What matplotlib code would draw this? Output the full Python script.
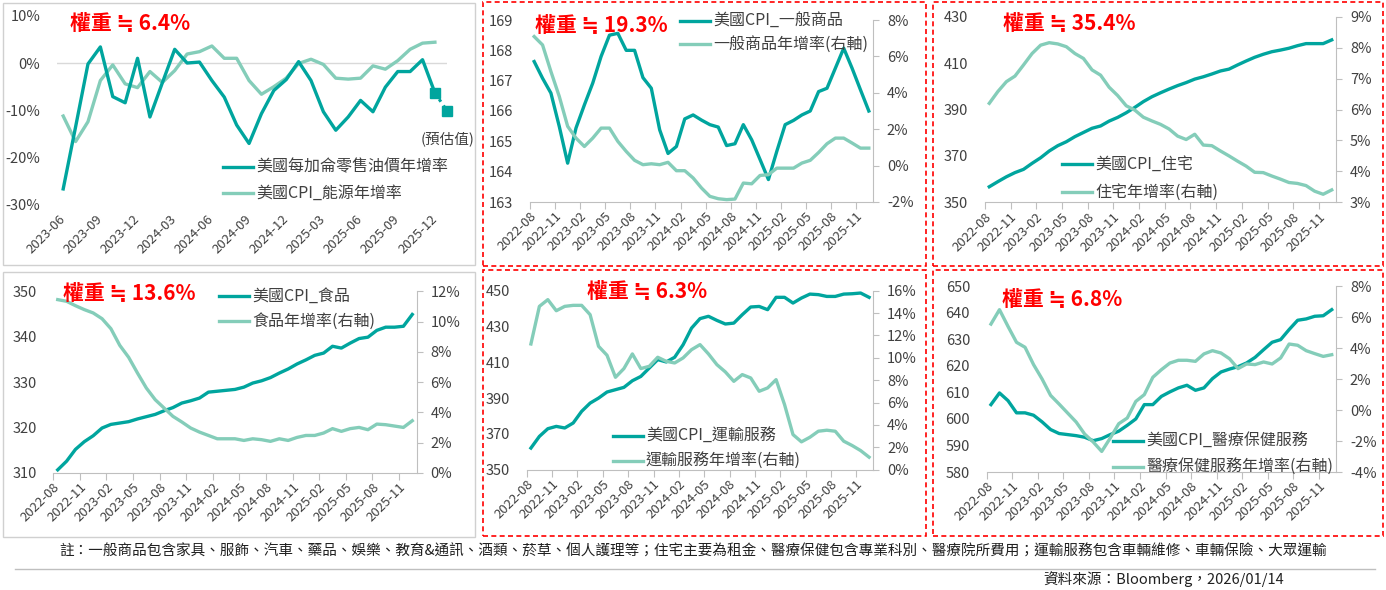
import numpy as np
import matplotlib
matplotlib.use('Agg')
import matplotlib.pyplot as plt
from matplotlib.patches import Rectangle
from matplotlib.lines import Line2D

plt.rcParams['font.family'] = ['Noto Sans CJK TC', 'DejaVu Sans']

W, H = 1386, 590
DARK = '#00A59E'
LIGHT = '#84CDB9'
GRAY = '#BFBFBF'
TXT = '#404040'

# ---- data ----
# 月份 2022-08 .. 2025-12
months = [f'{y}-{m:02d}' for y in range(2022, 2026) for m in range(1, 13)][7:]
# 月份 2023-06 .. 2025-12 (油價/能源)
months_oil = [f'{y}-{m:02d}' for y in range(2023, 2026) for m in range(1, 13)][5:]

oil_yoy = [-26.6, -13.5, -0.2, 3.4, -7.1, -8.4, 1.0, -11.4, -4.2, 2.9, 0.0, 0.2,
           -3.7, -7.2, -13.1, -17.0, -10.7, -5.8, -3.5, 0.3, -3.7, -10.3, -14.2,
           -11.4, -7.9, -10.3, -5.1, -1.8, -1.8, 0.7, -6.3]
oil_forecast = -10.2   # 2026-01 預估值
energy_yoy = [-11.2, -16.6, -12.4, -3.7, -0.4, -4.4, -5.2, -1.8, -4.1, -1.6, 1.9, 2.4,
              3.6, 1.0, 1.0, -3.7, -6.6, -5.0, -3.2, -0.1, 0.8, -0.3, -3.2, -3.4,
              -3.2, -0.6, -1.3, 0.5, 2.9, 4.2, 4.4]

goods_cpi = [167.63, 167.08, 166.59, 165.49, 164.28, 165.44, 166.2, 166.92, 167.8, 168.5,
             168.56, 168.0, 168.0, 167.1, 166.75, 165.38, 164.6, 164.83, 165.74, 165.87,
             165.7, 165.55, 165.47, 164.86, 164.92, 165.55, 165.05, 164.4, 163.74, 164.67,
             165.55, 165.69, 165.87, 166.0, 166.64, 166.75, 167.41, 168.07, 167.41, 166.7,
             166.0]
goods_yoy = [7.09, 6.63, 5.17, 3.8, 2.16, 1.51, 1.05, 1.51, 2.06, 2.06, 1.33, 0.78, 0.29,
             0.05, 0.1, 0.05, 0.18, -0.28, -0.28, -0.68, -1.23, -1.69, -1.82, -1.87, -1.84,
             -0.96, -1.0, -0.54, -0.5, -0.14, -0.14, -0.14, 0.14, 0.29, 0.72, 1.2, 1.51,
             1.51, 1.24, 0.96, 0.96]

shelter_cpi = [356.7, 358.9, 361.0, 362.8, 364.2, 366.8, 369.2, 372.1, 374.4, 376.1, 378.3,
               380.1, 381.9, 382.9, 385.0, 386.6, 388.6, 390.9, 393.4, 395.5, 397.2, 398.8,
               400.3, 401.6, 403.1, 404.1, 405.3, 406.6, 407.4, 409.2, 410.9, 412.5, 413.8,
               414.9, 415.6, 416.4, 417.5, 418.4, 418.4, 418.4, 420.0]
shelter_yoy = [6.2, 6.58, 6.9, 7.08, 7.44, 7.81, 8.08, 8.16, 8.12, 8.03, 7.81, 7.65, 7.28,
               7.11, 6.72, 6.45, 6.12, 5.98, 5.75, 5.63, 5.52, 5.37, 5.14, 5.03, 5.2, 4.85,
               4.83, 4.66, 4.5, 4.33, 4.17, 3.97, 3.96, 3.85, 3.75, 3.64, 3.61, 3.54, 3.36,
               3.26, 3.4]

food_cpi = [310.7, 312.6, 315.2, 316.9, 318.2, 319.9, 320.7, 321.0, 321.3, 321.9, 322.4,
            322.9, 323.7, 324.4, 325.4, 325.9, 326.5, 327.8, 328.0, 328.2, 328.4, 328.9,
            329.8, 330.3, 331.0, 332.0, 332.9, 334.0, 334.9, 335.9, 336.4, 337.9, 337.5,
            338.6, 339.6, 339.9, 341.4, 342.1, 342.1, 342.3, 344.9]
food_yoy = [11.45, 11.34, 11.05, 10.79, 10.57, 10.19, 9.53, 8.43, 7.64, 6.6, 5.61, 4.84,
            4.29, 3.74, 3.37, 2.97, 2.7, 2.48, 2.26, 2.26, 2.26, 2.15, 2.26, 2.2, 2.09, 2.26,
            2.15, 2.35, 2.48, 2.48, 2.64, 2.93, 2.75, 2.93, 3.01, 2.86, 3.23, 3.19, 3.1,
            3.01, 3.45]

transport_cpi = [362.1, 368.6, 372.9, 374.2, 373.3, 376.1, 382.6, 387.2, 390.0, 393.4,
                 394.7, 396.0, 399.7, 402.1, 406.8, 411.5, 410.2, 412.8, 419.8, 429.1,
                 434.4, 435.7, 433.4, 431.4, 431.9, 436.6, 440.9, 441.2, 439.4, 446.3,
                 446.3, 443.1, 445.9, 448.1, 447.8, 446.8, 446.8, 448.1, 448.3, 448.7,
                 446.3]
transport_yoy = [11.24, 14.6, 15.2, 14.21, 14.6, 14.69, 14.69, 13.86, 11.03, 10.23, 8.26,
                 9.04, 10.35, 9.04, 9.24, 10.05, 9.69, 9.54, 9.99, 10.73, 11.18, 10.35,
                 9.39, 8.74, 7.9, 8.5, 8.2, 7.01, 7.31, 8.05, 5.82, 3.14, 2.49, 2.9, 3.44,
                 3.53, 3.44, 2.55, 2.16, 1.71, 1.12]

medical_cpi = [605.4, 609.8, 606.9, 602.3, 602.3, 601.4, 598.9, 596.0, 594.5, 594.1, 593.7,
               593.1, 591.8, 592.6, 594.1, 595.4, 597.6, 600.0, 605.4, 605.4, 608.5, 610.2,
               611.7, 612.7, 610.8, 611.7, 615.2, 617.7, 618.8, 619.7, 621.1, 623.2, 626.1,
               628.9, 629.9, 633.7, 637.2, 637.7, 638.7, 638.9, 641.2]
medical_yoy = [5.56, 6.49, 5.41, 4.38, 4.06, 2.94, 2.01, 0.95, 0.39, -0.19, -0.77, -1.55,
               -2.06, -2.67, -1.81, -0.88, -0.51, 0.56, 1.0, 2.12, 2.61, 3.04, 3.22, 3.22,
               3.15, 3.63, 3.84, 3.69, 3.32, 2.68, 2.98, 2.94, 3.11, 2.98, 3.37, 4.27, 4.19,
               3.84, 3.65, 3.47, 3.58]


fig = plt.figure(figsize=(W / 100, H / 100), dpi=100)


def px_axes(x0, y0, x1, y1):
    return fig.add_axes([x0 / W, 1 - y1 / H, (x1 - x0) / W, (y1 - y0) / H])


def box(x0, y0, x1, y1, red):
    if red:
        r = Rectangle((x0 / W, 1 - y1 / H), (x1 - x0) / W, (y1 - y0) / H, fill=False,
                      ec='#FF0000', lw=1.2, ls=(0, (3, 2)), transform=fig.transFigure)
    else:
        r = Rectangle((x0 / W, 1 - y1 / H), (x1 - x0) / W, (y1 - y0) / H, fill=False,
                      ec='#D0D0D0', lw=1.0, transform=fig.transFigure)
    fig.add_artist(r)


def title(x, y, s):
    fig.text(x / W, 1 - y / H, s, color='#FF0000', fontsize=15, fontweight='bold',
             va='center', ha='left')


def legend_rows(x, ys, labels, colors):
    for y, lab, c in zip(ys, labels, colors):
        fig.add_artist(Line2D([x / W, (x + 30) / W], [1 - y / H] * 2, color=c, lw=2.4,
                              transform=fig.transFigure))
        fig.text((x + 33) / W, 1 - y / H, lab, fontsize=11.5, va='center', ha='left',
                 color=TXT)


def pct(v, _):
    return f'{v:.0f}%'


def dual_panel(rect, left, right, lticks, rticks):
    ax = px_axes(*rect)
    n = len(left)
    x = np.arange(n)
    ax.plot(x, left, color=DARK, lw=2.4, solid_joinstyle='round')
    ax.set_xlim(-0.5, n - 0.5)
    ax.set_ylim(lticks[0], lticks[-1])
    ax.set_yticks(lticks)
    for s in ['left', 'top', 'right']:
        ax.spines[s].set_visible(False)
    ax.spines['bottom'].set_color(GRAY)
    ax.set_xticks(np.arange(-0.5, n - 1, 3))
    ax.set_xticklabels([])
    ax.set_xticks(np.arange(0, n, 3), minor=True)
    ax.set_xticklabels(months[::3], minor=True, rotation=45, ha='right',
                       rotation_mode='anchor', va='center')
    ax.tick_params(axis='x', which='major', length=5, color=GRAY)
    ax.tick_params(axis='x', which='minor', length=0, pad=9, labelsize=9.5,
                   labelcolor=TXT)
    ax.tick_params(axis='y', length=0, pad=12, labelsize=10.5, labelcolor=TXT)

    ax2 = ax.twinx()
    ax2.plot(x, right, color=LIGHT, lw=2.4, solid_joinstyle='round')
    ax2.set_ylim(rticks[0], rticks[-1])
    ax2.set_yticks(rticks)
    ax2.yaxis.set_major_formatter(pct)
    for s in ['left', 'top', 'bottom']:
        ax2.spines[s].set_visible(False)
    ax2.spines['right'].set_color(GRAY)
    ax2.tick_params(axis='y', length=4, color=GRAY, pad=6, labelsize=10.5,
                    labelcolor=TXT)
    return ax, ax2


# ---- panel 1: 油價 vs 能源 ----
box(3, 3, 475, 265, False)
ax = px_axes(57, 15.7, 447.3, 205)
xo = np.arange(len(oil_yoy))
ax.axhline(0, color='#D9D9D9', lw=1.0)
ax.plot(xo, energy_yoy, color=LIGHT, lw=2.4, solid_joinstyle='round')
ax.plot(xo, oil_yoy, color=DARK, lw=2.4, solid_joinstyle='round')
ax.plot([xo[-1], xo[-1] + 1], [oil_yoy[-1], oil_forecast], color=DARK, lw=2.2,
        ls=(0, (1, 1.5)), marker='s', markersize=6.5, clip_on=False)
ax.set_xlim(-0.5, len(oil_yoy))
ax.set_ylim(-30, 10)
ax.set_yticks([-30, -20, -10, 0, 10])
ax.yaxis.set_major_formatter(pct)
for s in ax.spines.values():
    s.set_visible(False)
ax.set_xticks(xo[::3])
ax.set_xticklabels(months_oil[::3], rotation=45, ha='right', rotation_mode='anchor',
                   va='center')
ax.tick_params(axis='x', length=0, pad=9, labelsize=9.5, labelcolor=TXT)
ax.tick_params(axis='y', length=0, pad=12, labelsize=10.5, labelcolor=TXT)
ax.annotate('(預估值)', (xo[-1] + 1, oil_forecast), xytext=(0, -20),
            textcoords='offset points', ha='center', va='center', fontsize=10.5,
            color=TXT, annotation_clip=False)
title(70, 24, '權重 ≒ 6.4%')
legend_rows(223, [167, 193], ['美國每加侖零售油價年增率', '美國CPI_能源年增率'], [DARK, LIGHT])

# ---- panel 2: 一般商品 ----
box(483, 2, 926, 266, True)
dual_panel((530, 20, 873, 202), goods_cpi, goods_yoy, list(range(163, 170)),
           list(range(-2, 9, 2)))
title(535, 25, '權重 ≒ 19.3%')
legend_rows(680, [21, 44], ['美國CPI_一般商品', '一般商品年增率(右軸)'], [DARK, LIGHT])

# ---- panel 3: 住宅 ----
box(933, 2, 1383, 266, True)
dual_panel((985, 16.7, 1336, 202.3), shelter_cpi, shelter_yoy, list(range(350, 431, 20)),
           list(range(3, 10)))
title(1003, 24, '權重 ≒ 35.4%')
legend_rows(1062, [164, 192], ['美國CPI_住宅', '住宅年增率(右軸)'], [DARK, LIGHT])

# ---- panel 4: 食品 ----
box(3, 272, 475, 537, False)
dual_panel((53.3, 291.3, 416.7, 473), food_cpi, food_yoy, list(range(310, 351, 10)),
           list(range(0, 13, 2)))
title(63, 294, '權重 ≒ 13.6%')
legend_rows(219, [296, 321], ['美國CPI_食品', '食品年增率(右軸)'], [DARK, LIGHT])

# ---- panel 5: 運輸服務 ----
box(483, 270, 926, 536, True)
dual_panel((526.7, 290.7, 873.3, 469.7), transport_cpi, transport_yoy,
           list(range(350, 451, 20)), list(range(0, 17, 2)))
title(587, 291, '權重 ≒ 6.3%')
legend_rows(613, [436, 461], ['美國CPI_運輸服務', '運輸服務年增率(右軸)'], [DARK, LIGHT])

# ---- panel 6: 醫療保健服務 ----
box(933, 270, 1383, 536, True)
dual_panel((986.7, 286.3, 1336, 472), medical_cpi, medical_yoy, list(range(580, 651, 10)),
           list(range(-4, 9, 2)))
title(1002, 300, '權重 ≒ 6.8%')
legend_rows(1113, [441, 467], ['美國CPI_醫療保健服務', '醫療保健服務年增率(右軸)'],
            [DARK, LIGHT])

# ---- footer ----
note = ('註：一般商品包含家具、服飾、汽車、藥品、娛樂、教育&通訊、酒類、菸草、個人護理等；'
        '住宅主要為租金、醫療保健包含專業科別、醫療院所費用；運輸服務包含車輛維修、車輛保險、大眾運輸')
fig.text(693 / W, 1 - 552 / H, note, fontsize=10.5, ha='center', va='center', color='#202020')
fig.add_artist(Line2D([15 / W, 1375 / W], [1 - 569 / H] * 2, color='#BFBFBF', lw=1.0,
                      transform=fig.transFigure))
fig.text(1284 / W, 1 - 579 / H, '資料來源：Bloomberg，2026/01/14', fontsize=10.5, ha='right',
         va='center', color='#202020')

fig.savefig('out.png', dpi=100)
